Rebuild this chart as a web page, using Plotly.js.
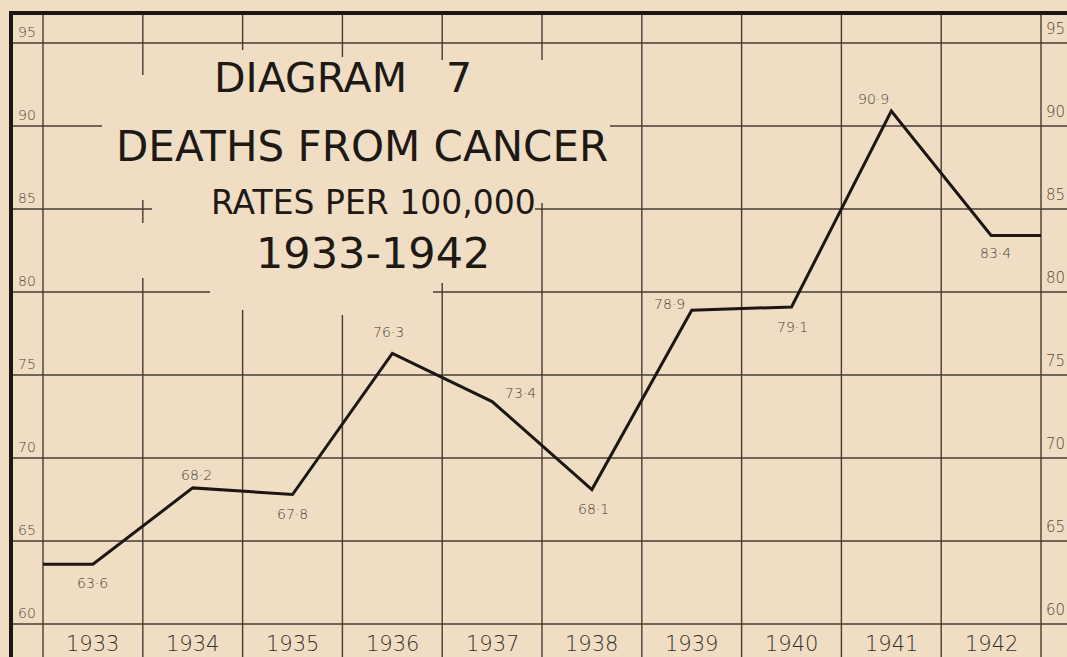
<!DOCTYPE html>
<html>
<head>
<meta charset="utf-8">
<script src="https://cdn.plot.ly/plotly-3.0.1.min.js"></script>
<style>
  html, body { margin: 0; padding: 0; background: #efdec4; }
  #chart { width: 1067px; height: 657px; }
</style>
</head>
<body>
<div id="chart"></div>
<script>
// ---- Data ----
const years = [1933, 1934, 1935, 1936, 1937, 1938, 1939, 1940, 1941, 1942];
const yearLabels = ["1933", "1934", "1935", "1936", "1937", "1938", "1939", "1940", "1941", "1942"];
const rates = [63.6, 68.2, 67.8, 76.3, 73.4, 68.1, 78.9, 79.1, 90.9, 83.4];
const rateLabels = ["63·6", "68·2", "67·8", "76·3", "73·4", "68·1", "78·9", "79·1", "90·9", "83·4"];
const yTicks = [60, 65, 70, 75, 80, 85, 90, 95];
const titleLines = ["DIAGRAM   7", "DEATHS FROM CANCER", "RATES PER 100,000", "1933-1942"];

// ---- Styling / layout constants ----
const W = 1067, H = 657;
const BG = "#efdec4";
const INK = "#1c1714";
const GRID = "#463c33";
const LABEL = "#4a4038";
const px = v => v / W;          // paper x from pixel
const py = v => 1 - v / H;      // paper y from pixel

// label offsets (pixels) for each value label
const labelShift = [
  [0, -19], [4, 13], [0, -19], [-4, 21], [28, 9],
  [2, -19], [-22, 6], [1, -20], [-18, 12], [4, -17]
];

// line trace: extended half a column at both ends (flat)
const lineX = [years[0] - 0.5, ...years, years[years.length - 1] + 0.5];
const lineY = [rates[0], ...rates, rates[rates.length - 1]];

const shapes = [];
// horizontal grid lines: segments in paper-x pixel spans (gaps around title)
const hGaps = { 90: [[11, 102], [610, W]], 85: [[11, 152], [535, W]], 80: [[11, 210], [433, W]] };
yTicks.forEach(v => {
  const segs = hGaps[v] || [[11, W]];
  segs.forEach(s => shapes.push({
    type: "line", xref: "paper", yref: "y", x0: px(s[0]), x1: px(s[1]), y0: v, y1: v,
    line: { color: GRID, width: 1.7 }, layer: "below"
  }));
});
// vertical grid lines at column boundaries
const boundaries = [];
for (let i = 0; i <= years.length; i++) boundaries.push(years[0] - 0.5 + i);
const vGaps = [
  [[13, H]],
  [[13, 75], [200, 223], [278, H]],
  [[13, 50], [310, H]],
  [[13, 57], [315, H]],
  [[13, 60], [283, H]],
  [[13, 60], [203, H]]
];
boundaries.forEach((b, i) => {
  const segs = vGaps[i] || [[13, H]];
  segs.forEach(s => shapes.push({
    type: "line", xref: "x", yref: "paper", x0: b, x1: b, y0: py(s[0]), y1: py(s[1]),
    line: { color: GRID, width: 1.4 }, layer: "below"
  }));
});
// thick frame (top and left)
shapes.push({ type: "line", xref: "paper", yref: "paper", x0: px(9), x1: px(W), y0: py(13), y1: py(13),
  line: { color: INK, width: 4 } });
shapes.push({ type: "line", xref: "paper", yref: "paper", x0: px(11), x1: px(11), y0: py(11), y1: py(H),
  line: { color: INK, width: 4 } });

const annotations = [];
// value labels
rates.forEach((r, i) => annotations.push({
  x: years[i], y: r, xref: "x", yref: "y", text: rateLabels[i], showarrow: false,
  xshift: labelShift[i][0], yshift: labelShift[i][1],
  font: { family: "DejaVu Sans", size: 14, color: LABEL, weight: 300 }
}));
// year labels under the 60 line
years.forEach((y, i) => annotations.push({
  x: y, y: yTicks[0], xref: "x", yref: "y", text: yearLabels[i], showarrow: false,
  yanchor: "top", yshift: -6,
  font: { family: "DejaVu Sans", size: 21, color: "#36302b", weight: 300 }
}));
// y tick labels, left and right
yTicks.forEach(v => {
  annotations.push({ x: px(16), y: v, xref: "paper", yref: "y", text: String(v), showarrow: false,
    xanchor: "left", yanchor: "bottom", yshift: 1,
    font: { family: "DejaVu Sans", size: 14, color: "#54463a", weight: 300 } });
  annotations.push({ x: px(1044), y: v, xref: "paper", yref: "y", text: String(v), showarrow: false,
    xanchor: "left", yanchor: "bottom", yshift: 3,
    font: { family: "DejaVu Sans", size: 15, color: "#54463a", weight: 300 } });
});
// title block
const titleSpec = [
  { cx: 343, cy: 78, size: 41 },
  { cx: 362, cy: 146, size: 42 },
  { cx: 373, cy: 202, size: 33 },
  { cx: 373, cy: 253, size: 43 }
];
titleLines.forEach((t, i) => annotations.push({
  x: px(titleSpec[i].cx), y: py(titleSpec[i].cy), xref: "paper", yref: "paper",
  text: t, showarrow: false, xanchor: "center", yanchor: "middle",
  font: { family: "DejaVu Sans", size: titleSpec[i].size, color: "#1e1915", weight: 400 }
}));

const data = [{
  x: lineX, y: lineY, type: "scatter", mode: "lines",
  line: { color: INK, width: 3 }, hoverinfo: "skip", showlegend: false
}];

const layout = {
  width: W, height: H,
  margin: { l: 0, r: 0, t: 0, b: 0, pad: 0 },
  paper_bgcolor: BG, plot_bgcolor: BG,
  xaxis: { range: [1932.069, 1942.7605], visible: false, fixedrange: true },
  yaxis: { range: [58.012, 97.59], visible: false, fixedrange: true },
  shapes: shapes,
  annotations: annotations,
  showlegend: false
};

Plotly.newPlot("chart", data, layout, { staticPlot: true, displayModeBar: false });
</script>
</body>
</html>
